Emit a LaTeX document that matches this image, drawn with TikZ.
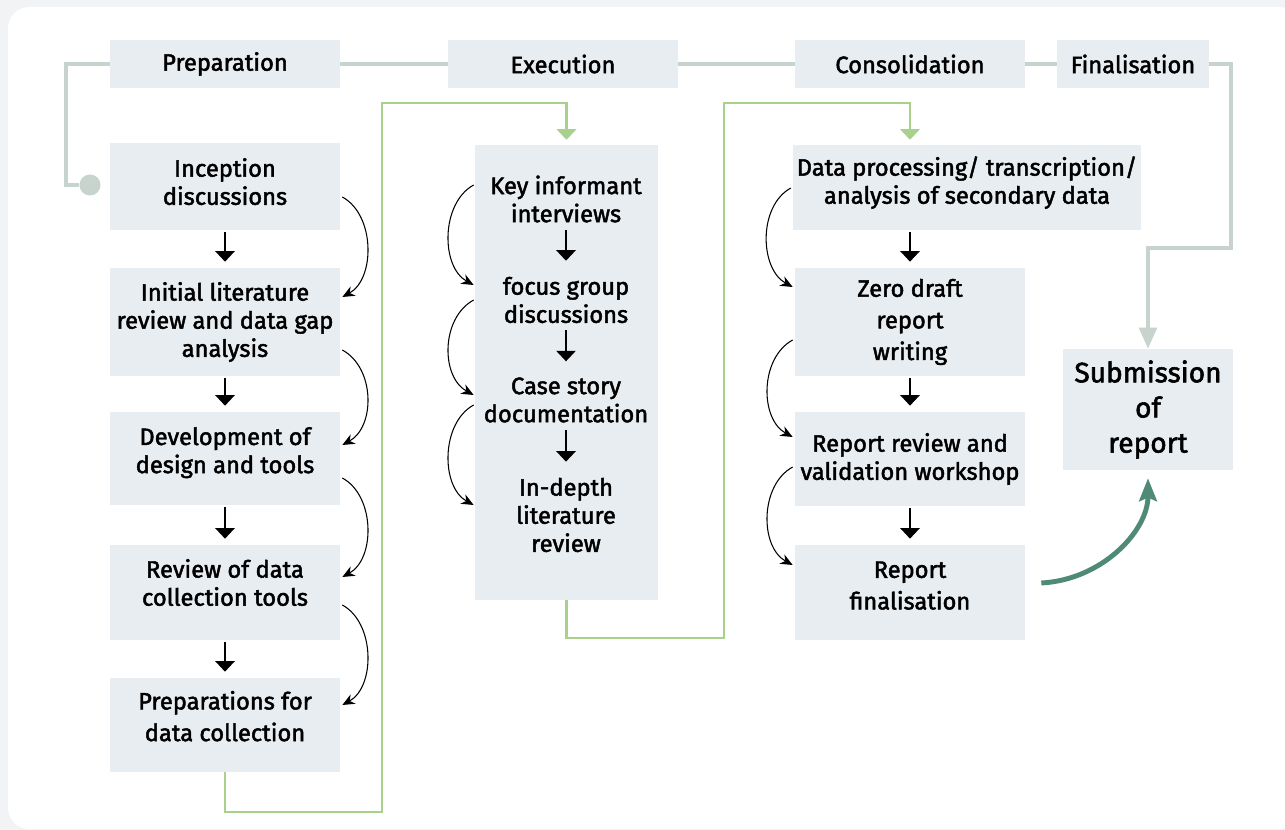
\documentclass[tikz,border=0pt]{standalone}
\usepackage{fontspec}
\setmainfont{Fira Sans}[FakeBold=2]
\usetikzlibrary{arrows.meta,calc}
\definecolor{pagebg}{HTML}{F1F3F5}
\definecolor{boxfill}{HTML}{E8EDF1}
\definecolor{linkgray}{HTML}{C6D4CD}
\definecolor{flowgreen}{HTML}{A9D18E}
\definecolor{finalteal}{HTML}{4F8A77}
\begin{document}
\begin{tikzpicture}[
        x=0.02cm, y=-0.02cm,
        box/.style={rectangle, fill=boxfill, align=center, inner sep=2pt, minimum width=4.6cm, font=\fontsize{13.5}{16}\selectfont},
        lift/.style={text depth=#1},
        item/.style={align=center, inner sep=0pt, font=\fontsize{13.5}{16}\selectfont},
        arrow/.style={-{Triangle[width=11pt,length=6pt]}, line width=1.1pt, shorten >=3.4pt, shorten <=1pt},
        curve/.style={-{Stealth[length=7pt,width=6pt]}, line width=0.6pt},
        flow/.style={draw=flowgreen, line width=1.4pt, -{Triangle[width=11pt,length=6pt]}, shorten >=2.8pt},
        link/.style={draw=linkgray, line width=2.3pt},
        final/.style={draw=finalteal, line width=2.8pt, -{Stealth[length=13pt,width=10pt,inset=2pt]}, shorten >=4.5pt}
    ]
        % Background
        \useasboundingbox (0,0) rectangle (1285,830);
        \fill[pagebg] (0,0) rectangle (1285,830);
        \fill[white, rounded corners=12pt] (8,7) rectangle (1300,829);

        % Phases
        \node[box, minimum height=0.96cm] (hprep) at (225,64) {Preparation};
        \node[box, minimum height=0.96cm] (hexec) at (563,64) {Execution};
        \node[box, minimum height=0.96cm] (hcons) at (910,64) {Consolidation};
        \node[box, minimum height=0.96cm, minimum width=3.04cm] (hfin) at (1133,64) {Finalisation};

        % Preparation
        \node[box, lift=5.7pt, minimum height=1.74cm] (incep) at (225,186.5) {Inception\\discussions};
        \node[box, minimum height=2.16cm] (initlit) at (225,322) {Initial literature\\review and data gap\\analysis};
        \node[box, lift=9.5pt, minimum height=1.86cm] (devel) at (225,458.5) {Development of\\design and tools};
        \node[box, lift=11.5pt, minimum height=1.9cm] (review) at (225,592.5) {Review of data\\collection tools};
        \node[box, lift=10.2pt, minimum height=1.88cm, font=\fontsize{13.5}{18}\selectfont] (prep) at (225,725) {Preparations for\\data collection};

        % Execution
        \node[box, minimum width=3.66cm, minimum height=9.1cm] (exec) at (566.5,372.5) {};
        \node[item] (ki) at (566,199) {Key informant\\interviews};
        \node[item] (fg) at (566,300) {focus group\\discussions};
        \node[item] (cs) at (566,400) {Case story\\documentation};
        \node[item] (idl) at (566,515) {In-depth\\literature\\review};

        % Consolidation
        \node[box, lift=8.4pt, minimum width=6.88cm, minimum height=1.7cm] (dp) at (967,187.5) {Data processing/ transcription/\\analysis of secondary data};
        \node[box, minimum height=2.16cm, font=\fontsize{13.5}{18}\selectfont] (zd) at (910,322) {Zero draft\\report\\writing};
        \node[box, minimum height=1.88cm] (rr) at (910,459) {Report review and\\validation workshop};
        \node[box, lift=8pt, minimum height=1.9cm, font=\fontsize{13.5}{18}\selectfont] (rf) at (910,592.5) {Report\\finalisation};

        % Finalisation
        \node[box, minimum width=3.4cm, minimum height=2.42cm, font=\fontsize{16}{20}\selectfont] (sub) at (1148,409.5) {Submission\\of\\report};

        % Steps
        \draw[arrow] (incep) -- (initlit);
        \draw[arrow] (initlit) -- (devel);
        \draw[arrow] (devel) -- (review);
        \draw[arrow] (review) -- (prep);
        \draw[arrow, shorten <=4pt, shorten >=9pt] (ki) -- (fg);
        \draw[arrow, shorten <=4pt, shorten >=9pt] (fg) -- (cs);
        \draw[arrow, shorten <=4pt, shorten >=9pt] (cs) -- (idl);
        \draw[arrow] (dp.south -| zd) -- (zd);
        \draw[arrow] (zd) -- (rr);
        \draw[arrow] (rr) -- (rf);

        % Curved links
        \draw[curve] ($(incep.east)+(2,10.5)$) .. controls +(33,18) and +(33,-18) .. ($(initlit.east)+(2,-25)$);
        \draw[curve] ($(initlit.east)+(2,28)$) .. controls +(33,18) and +(33,-18) .. ($(devel.east)+(2,-13.5)$);
        \draw[curve] ($(devel.east)+(2,19.5)$) .. controls +(33,18) and +(33,-18) .. ($(review.east)+(2,-15.5)$);
        \draw[curve] ($(review.east)+(2,12.5)$) .. controls +(33,18) and +(33,-18) .. ($(prep.east)+(2,-20)$);
        \draw[curve] ($(exec.west |- ki)+(-1,-14)$) .. controls +(-33,18) and +(-33,-18) .. ($(exec.west |- fg)+(-1,-15)$);
        \draw[curve] ($(exec.west |- fg)+(-1,0)$) .. controls +(-33,18) and +(-33,-18) .. ($(exec.west |- cs)+(-1,-5)$);
        \draw[curve] ($(exec.west |- cs)+(-1,5)$) .. controls +(-33,18) and +(-33,-18) .. ($(exec.west |- idl)+(-1,-10)$);
        \draw[curve] ($(dp.west)+(-2,0.5)$) .. controls +(-33,18) and +(-33,-18) .. ($(zd.west)+(-2,-35)$);
        \draw[curve] ($(zd.west)+(-2,18)$) .. controls +(-33,18) and +(-33,-18) .. ($(rr.west)+(-2,-22)$);
        \draw[curve] ($(rr.west)+(-2,8)$) .. controls +(-33,18) and +(-33,-18) .. ($(rf.west)+(-2,-27.5)$);

        % Phase line
        \coordinate (l1) at (66,185);
        \coordinate (f1) at (1231,248);
        \node[circle, fill=linkgray, inner sep=0pt, minimum size=0.42cm] (dot) at (90,185) {};
        \draw[link] (hprep.west) -| (l1) -- (dot);
        \draw[link] (hprep) -- (hexec);
        \draw[link] (hexec) -- (hcons);
        \draw[link] (hcons) -- (hfin);
        \draw[link, -{Triangle[width=10pt,length=12pt]}] (hfin.east) -| (f1) -| (sub.north);

        % Hand-overs
        \coordinate (g1) at (382,812);
        \coordinate (g2) at (382,103);
        \coordinate (g3) at (724,638);
        \coordinate (g4) at (724,103);
        \coordinate (dptop) at (dp.north -| zd);
        \draw[flow] (prep.south) |- (g1) -- (g2) -| (exec.north);
        \draw[flow] (exec.south) |- (g3) -- (g4) -| (dptop);

        % Submission
        \coordinate (tstart) at ($(rf.east)+(16,-9.5)$);
        \draw[final] (tstart) to[out=3, in=-90] (sub.south);
    \end{tikzpicture}
\end{document}
